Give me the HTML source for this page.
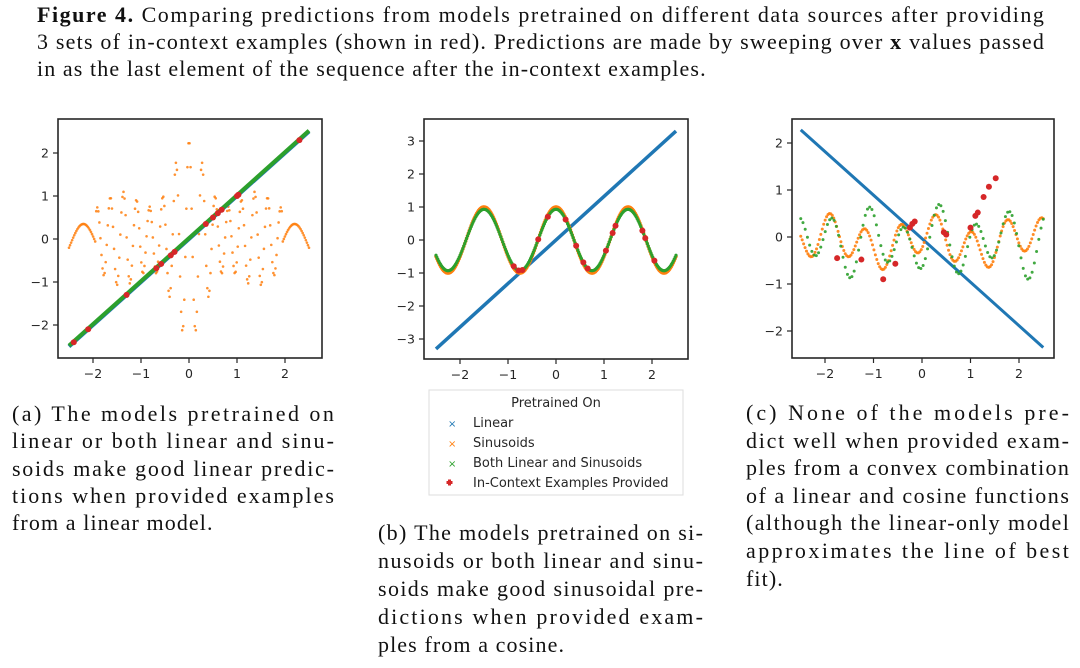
<!DOCTYPE html>
<html><head><meta charset="utf-8"><style>
html,body{margin:0;padding:0;background:#fff;}
svg{display:block}
.cap{font-family:"Liberation Serif",serif;font-size:22px;fill:#111;letter-spacing:1.1px}
.tk{font-family:"DejaVu Sans",sans-serif;font-size:12.5px;fill:#262626}
.lg{font-family:"DejaVu Sans",sans-serif;font-size:13px;fill:#262626}
</style></head><body>
<svg id="s" width="1080" height="668" xmlns="http://www.w3.org/2000/svg">
<g class="cap">
<text x="37" y="22" textLength="1008" lengthAdjust="spacing"><tspan font-weight="bold">Figure 4.</tspan> Comparing predictions from models pretrained on different data sources after providing</text>
<text x="37" y="49" textLength="1008" lengthAdjust="spacing">3 sets of in-context examples (shown in red). Predictions are made by sweeping over <tspan font-weight="bold">x</tspan> values passed</text>
<text x="37" y="76">in as the last element of the sequence after the in-context examples.</text>

<text x="12" y="421" textLength="323" lengthAdjust="spacing">(a) The models pretrained on</text>
<text x="12" y="448" textLength="323" lengthAdjust="spacing">linear or both linear and sinu-</text>
<text x="12" y="476" textLength="323" lengthAdjust="spacing">soids make good linear predic-</text>
<text x="12" y="503" textLength="323" lengthAdjust="spacing">tions when provided examples</text>
<text x="12" y="530">from a linear model.</text>

<text x="378" y="540" textLength="326" lengthAdjust="spacing">(b) The models pretrained on si-</text>
<text x="378" y="568" textLength="326" lengthAdjust="spacing">nusoids or both linear and sinu-</text>
<text x="378" y="596" textLength="326" lengthAdjust="spacing">soids make good sinusoidal pre-</text>
<text x="378" y="624" textLength="326" lengthAdjust="spacing">dictions when provided exam-</text>
<text x="378" y="652">ples from a cosine.</text>

<text x="746" y="420" textLength="324" lengthAdjust="spacing">(c) None of the models pre-</text>
<text x="746" y="448" textLength="324" lengthAdjust="spacing">dict well when provided exam-</text>
<text x="746" y="475" textLength="324" lengthAdjust="spacing">ples from a convex combination</text>
<text x="746" y="503" textLength="324" lengthAdjust="spacing">of a linear and cosine functions</text>
<text x="746" y="530" textLength="324" lengthAdjust="spacing">(although the linear-only model</text>
<text x="746" y="558" textLength="324" lengthAdjust="spacing">approximates the line of best</text>
<text x="746" y="586">fit).</text>
</g>
<rect x="429" y="390" width="254" height="105" fill="#fff" stroke="#ddd" stroke-width="1"/>
<g class="lg">
<text x="556" y="407" text-anchor="middle">Pretrained On</text>
<text x="473" y="427">Linear</text>
<text x="473" y="447">Sinusoids</text>
<text x="473" y="467">Both Linear and Sinusoids</text>
<text x="473" y="487">In-Context Examples Provided</text>
<text x="448" y="427" font-size="10" fill="#1f77b4">×</text>
<text x="448" y="447" font-size="10" fill="#ff7f0e">×</text>
<text x="448" y="467" font-size="10" fill="#2ca02c">×</text>
</g>
<path d="M446.5,482.5h6M449.5,479.5v6" stroke="#d62728" stroke-width="3"/>
<g id="plots"></g>
</svg>
<script>
var NS="http://www.w3.org/2000/svg",G=document.getElementById('plots');
function el(t,a,p){var e=document.createElementNS(NS,t);for(var k in a)e.setAttribute(k,a[k]);(p||G).appendChild(e);return e;}
function panel(P){
 var X=function(v){return P.x0+v*P.sx},Y=function(v){return P.y0-v*P.sy};
 P.draw(X,Y);
 el('rect',{x:P.l,y:P.t,width:P.r-P.l,height:P.b-P.t,fill:'none',stroke:'#262626','stroke-width':1.6});
 P.xt.forEach(function(v){var x=X(v);el('line',{x1:x,x2:x,y1:P.b,y2:P.b+5,stroke:'#262626','stroke-width':1.2});
  var t=el('text',{x:x,y:P.b+20,'text-anchor':'middle','class':'tk'});t.textContent=(v<0?'−':'')+Math.abs(v);});
 P.yt.forEach(function(v){var y=Y(v);el('line',{x1:P.l-5,x2:P.l,y1:y,y2:y,stroke:'#262626','stroke-width':1.2});
  var t=el('text',{x:P.l-9,y:y+4.5,'text-anchor':'end','class':'tk'});t.textContent=(v<0?'−':'')+Math.abs(v);});
}
function dots(X,Y,f,n,c,r,op){for(var i=0;i<n;i++){var x=-2.5+5*i/(n-1);el('circle',{cx:X(x),cy:Y(f(x)),r:r,fill:c,opacity:op||1});}}
function reds(X,Y,pts){pts.forEach(function(p){el('circle',{cx:X(p[0]),cy:Y(p[1]),r:3,fill:'#d62728'});});}
// panel a
panel({l:58,r:322,t:119,b:358,x0:189,sx:48,y0:239,sy:43,xt:[-2,-1,0,1,2],yt:[-2,-1,0,1,2],draw:function(X,Y){
 dots(X,Y,function(x){var A=0.6+0.5*Math.exp(-Math.pow(Math.abs(x)-1.4,2)/0.2)+1.7*Math.exp(-x*x/0.2);
   if(Math.abs(x)>1.95) return 0.45*Math.cos(6*(Math.abs(x)-2.2))-0.1;return A*Math.cos(23*x);},230,'#ff7f0e',1.3,0.85);
 el('line',{x1:X(-2.5),y1:Y(-2.5),x2:X(2.5),y2:Y(2.5),stroke:'#1f77b4','stroke-width':4});
 el('line',{x1:X(-2.5),y1:Y(-2.48),x2:X(2.5),y2:Y(2.52),stroke:'#2ca02c','stroke-width':4});
 reds(X,Y,[[-2.4,-2.4],[-2.1,-2.1],[-1.3,-1.3],[-0.68,-0.68],[-0.58,-0.58],[-0.38,-0.38],[-0.3,-0.3],[0.35,0.35],[0.5,0.5],[0.6,0.6],[0.68,0.68],[1.0,1.0],[1.03,1.03],[2.3,2.3]]);
}});
// panel b
panel({l:424,r:688,t:119,b:359,x0:556,sx:48,y0:240,sy:33,xt:[-2,-1,0,1,2],yt:[-3,-2,-1,0,1,2,3],draw:function(X,Y){
 el('line',{x1:X(-2.5),y1:Y(-3.3),x2:X(2.5),y2:Y(3.3),stroke:'#1f77b4','stroke-width':3.5});
 dots(X,Y,function(x){return Math.cos(4.19*x);},260,'#ff7f0e',1.8);
 dots(X,Y,function(x){return 0.93*Math.cos(4.19*x);},260,'#2ca02c',1.6);
 var xs=[-0.88,-0.78,-0.7,-0.37,-0.17,0.2,0.42,0.57,0.66,1.04,1.18,1.24,1.8,1.86,2.05];
 reds(X,Y,xs.map(function(x){return [x,0.93*Math.cos(4.19*x)];}));
}});
// panel c
panel({l:792,r:1054,t:119,b:358,x0:922,sx:48.5,y0:237,sy:47,xt:[-2,-1,0,1,2],yt:[-2,-1,0,1,2],draw:function(X,Y){
 el('line',{x1:X(-2.5),y1:Y(2.28),x2:X(2.5),y2:Y(-2.35),stroke:'#1f77b4','stroke-width':3});
 dots(X,Y,function(x){return 0.4*Math.cos(8.6*(x+1.9))+0.2*Math.cos(3.1*(x+1.9))-0.1;},170,'#ff7f0e',1.5,0.9);
 dots(X,Y,function(x){return 0.55*Math.cos(8.6*(x+1.1))+0.25*Math.sin(5*x)-0.1;},110,'#2ca02c',1.5,0.9);
 reds(X,Y,[[-1.75,-0.45],[-1.25,-0.48],[-0.8,-0.9],[-0.55,-0.57],[-0.25,0.2],[-0.2,0.28],[-0.15,0.33],[0.45,0.1],[0.5,0.05],[1.0,0.2],[1.1,0.45],[1.15,0.52],[1.27,0.85],[1.38,1.07],[1.52,1.25]]);
}});
</script>
</body></html>
